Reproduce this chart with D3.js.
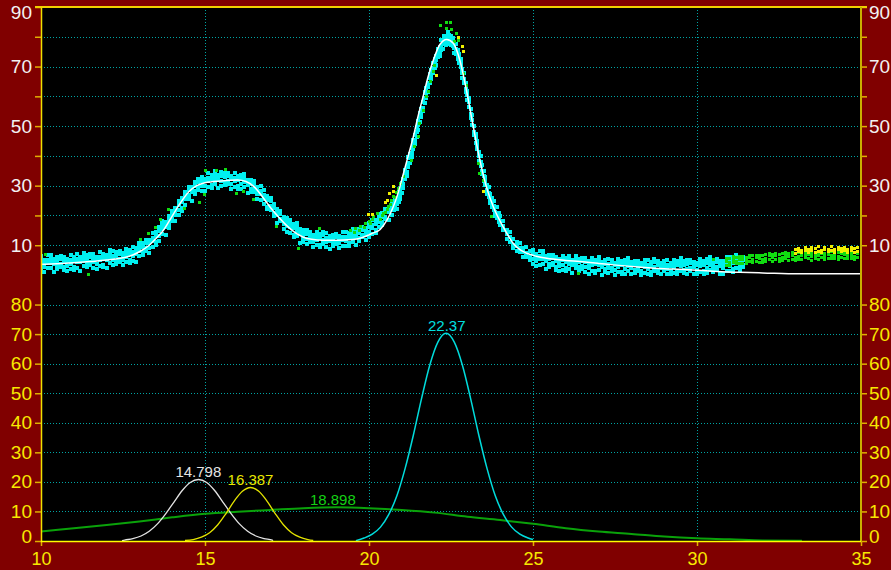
<!DOCTYPE html>
<html><head><meta charset="utf-8">
<script src="https://cdn.jsdelivr.net/npm/d3@7"></script>
<style>html,body{margin:0;padding:0;background:#800000;}svg{display:block;}</style>
</head><body><svg id="chart" width="891" height="570"></svg>
<script>
// ---------- DATA ----------
const xTicks = [10, 15, 20, 25, 30, 35];
const xGrid = [15, 20, 25, 30];
const topTicks = [10, 20, 30, 40, 50, 60, 70, 80, 90];
const topLabels = [10, 30, 50, 70, 90];
const botTicks = [0, 10, 20, 30, 40, 50, 60, 70, 80];

// measured points, rows of [x, y, y, ...]
const cyanRows = [
[10.0,1.7,3.4,4.9,6.4],[10.1,1.1,2.8,4.3,5.2],[10.2,2.2,4.1,5.2,6.7],[10.3,2.5,4.1,5.5,6.8],[10.4,1.0,3.8,4.8,5.5],
[10.5,2.1,3.2,4.8,6.1],[10.6,2.8,3.7,5.3,6.3],[10.7,1.7,2.6,4.7,6.1],[10.8,1.4,3.1,4.6,5.5],[10.9,2.0,3.7,5.2,6.7],
[11.0,1.8,2.7,4.8,6.2],[11.1,2.5,4.4,5.5,7.0],[11.2,1.5,4.3,5.3,6.0],[11.3,3.1,4.7,6.1,7.4],[11.4,2.6,3.7,5.3,6.6],
[11.5,3.4,4.3,5.9,6.9],[11.6,2.5,4.2,5.7,7.2],[11.7,2.1,3.8,5.3,6.2],[11.8,3.1,5.0,6.1,7.6],[11.9,2.6,3.5,5.6,7.0],
[12.0,2.2,5.0,6.0,6.7],[12.1,4.0,5.6,7.0,8.3],[12.2,3.2,4.9,6.4,7.9],[12.3,3.7,4.8,6.4,7.7],[12.4,4.5,5.4,7.0,8.0],
[12.5,3.2,4.9,6.4,7.3],[12.6,4.3,6.2,7.3,8.8],[12.7,4.0,4.9,7.0,8.4],[12.8,4.6,6.3,7.8,9.3],[12.9,4.4,7.2,8.2,8.9],
[13.0,6.5,8.1,9.5,10.8],[13.1,6.6,7.7,9.3,10.6],[13.2,8.2,9.1,10.7,11.7],[13.3,7.5,9.2,10.7,11.6],[13.4,9.5,11.4,12.5,14.0],
[13.5,10.1,11.0,13.1,14.5],[13.6,11.5,13.2,14.7,16.2],[13.7,13.8,15.4,16.8,18.1],[13.8,13.4,16.2,17.2,17.9],[13.9,15.9,17.0,18.6,19.9],
[14.0,18.1,19.0,20.6,21.6],[14.1,18.3,20.0,21.5,22.4],[14.2,20.2,21.9,23.4,24.9],[14.3,21.5,22.4,24.5,25.9],[14.4,23.5,25.4,26.5,28.0],
[14.5,25.4,27.0,28.4,29.7],[14.6,25.0,27.8,28.8,29.5],[14.7,27.1,28.2,29.8,31.1],[14.8,28.6,29.5,31.1,32.1],[14.9,28.3,30.0,31.5,33.0],
[15.0,28.3,30.0,31.5,32.4],[15.1,29.6,31.5,32.6,34.1],[15.2,29.3,30.2,32.3,33.7],[15.3,30.6,32.2,33.6,34.9],[15.4,29.1,31.9,32.9,33.6],
[15.5,29.9,31.6,33.1,34.6],[15.6,30.1,31.2,32.8,34.1],[15.7,30.7,31.6,33.2,34.2],[15.8,29.0,30.7,32.2,33.1],[15.9,29.7,31.6,32.7,34.2],
[16.0,28.9,29.8,31.9,33.3],[16.1,28.9,30.6,32.1,33.6],[16.2,29.5,31.1,32.5,33.8],[16.3,27.5,30.3,31.3,32.0],[16.4,27.9,29.0,30.6,31.9],
[16.5,27.9,28.8,30.4,31.4],[16.6,25.5,27.2,28.7,29.6],[16.7,25.3,27.2,28.3,29.8],[16.8,23.7,25.4,26.9,28.4],[16.9,22.1,23.0,25.1,26.5],
[17.0,21.7,23.3,24.7,26.0],[17.1,19.8,20.9,22.5,23.8],[17.2,17.5,20.3,21.3,22.0],[17.3,18.0,18.9,20.5,21.5],[17.4,15.3,17.0,18.5,19.4],
[17.5,14.6,16.3,17.8,19.3],[17.6,14.1,16.0,17.1,18.6],[17.7,12.7,13.6,15.7,17.1],[17.8,13.1,14.7,16.1,17.4],[17.9,10.9,13.7,14.7,15.4],
[18.0,11.2,12.3,13.9,15.2],[18.1,10.5,12.2,13.7,15.2],[18.2,11.1,12.0,13.6,14.6],[18.3,9.3,11.0,12.5,13.4],[18.4,10.0,11.9,13.0,14.5],
[18.5,9.3,10.2,12.3,13.7],[18.6,10.3,11.9,13.3,14.6],[18.7,9.3,11.0,12.5,14.0],[18.8,8.6,11.4,12.4,13.1],[18.9,9.6,10.7,12.3,13.6],
[19.0,10.3,11.2,12.8,13.8],[19.1,8.9,10.6,12.1,13.0],[19.2,9.9,11.8,12.9,14.4],[19.3,9.7,11.4,12.9,14.4],[19.4,9.7,10.6,12.7,14.1],
[19.5,11.2,12.8,14.2,15.5],[19.6,10.0,12.8,13.8,14.5],[19.7,11.4,12.5,14.1,15.4],[19.8,12.6,13.5,15.1,16.1],[19.9,11.7,13.4,14.9,15.8],
[20.0,12.8,14.5,16.0,17.5],[20.1,13.9,15.8,16.9,18.4],[20.2,14.2,15.1,17.2,18.6],[20.3,16.2,17.8,19.2,20.5],[20.4,16.7,17.8,19.4,20.7],
[20.5,18.7,19.6,21.2,22.2],[20.6,18.5,21.3,22.3,23.0],[20.7,20.3,22.0,23.5,25.0],
[20.75,21.9,23.5,25.0],[20.8,22.6,24.1,25.5],[20.85,22.3,23.9,25.3],[20.9,24.6,26.1,28.0],[20.95,25.5,26.6,28.5],
[21.0,27.7,29.3,30.8],[21.05,29.1,30.7,32.1],[21.1,32.4,33.9,35.3],[21.15,33.4,34.5,36.4],[21.2,36.2,37.7,39.6],
[21.25,37.7,39.3,40.8],[21.3,39.5,41.1,42.5],[21.35,42.4,43.9,45.3],[21.4,43.9,45.0,46.9],[21.45,46.4,47.9,49.8],
[21.5,48.7,50.3,51.8],[21.55,51.4,52.9,54.3],[21.6,52.9,54.5,55.9],[21.65,55.1,56.2,58.1],[21.7,57.9,59.4,61.3],
[21.75,59.6,61.2,62.7],[21.8,61.6,63.2,64.6],[21.85,64.5,66.0,67.4],[21.9,65.8,66.9,68.8],[21.95,67.9,69.4,71.3],
[22.0,69.5,71.1,72.6],[22.05,70.5,72.1,73.5],[22.1,73.1,74.6,76.0],[22.15,73.4,74.5,76.4],[22.2,75.4,76.9,78.8],
[22.25,75.9,77.5,79.0],[22.3,77.5,79.0,80.4],[22.35,77.2,78.8,80.2],[22.4,78.3,79.8,81.7],[22.45,77.6,78.7,80.6],
[22.5,77.2,78.8,80.3],[22.55,76.8,78.3,79.7],[22.6,74.6,76.2,77.6],[22.65,74.3,75.8,77.7],[22.7,72.4,73.5,75.4],
[22.75,71.2,72.8,74.3],[22.8,69.7,71.2,72.6],[22.85,66.2,67.8,69.2],[22.9,64.4,65.9,67.8],[22.95,61.4,62.5,64.4],
[23.0,58.8,60.4,61.9],[23.05,56.5,58.0,59.4],[23.1,52.6,54.2,55.6],[23.15,50.4,51.9,53.8],[23.2,47.0,48.1,50.0],
[23.25,44.4,46.0,47.5],[23.3,42.2,43.7,45.1],[23.35,38.4,40.0,41.4],[23.4,36.5,38.0,39.9],[23.45,33.8,34.9,36.8],
[23.5,31.7,33.3,34.8],[23.55,30.1,31.6,33.0],[23.6,27.1,28.7,30.1],[23.65,26.2,27.7,29.6],[23.7,24.1,25.2,27.1],
[23.75,22.7,24.3,25.8],[23.8,21.8,23.3,24.7],[23.85,19.7,21.3,22.7],[23.9,19.3,20.8,22.7],[23.95,17.7,18.8,20.7],
[24.0,16.7,18.3,19.8],[24.1,15.1,16.6,18.0],[24.2,12.2,13.8,15.2],[24.3,11.1,12.6,14.5],[24.4,9.0,10.1,12.0],
[24.5,8.1,9.7,11.2],[24.6,7.7,9.2,10.6],[24.7,6.0,7.6,9.0],[24.8,6.0,7.5,9.4],[24.9,5.0,6.1,8.0],
[25.0,3.8,5.5,7.0,8.5],[25.1,2.9,4.6,6.1,7.0],[25.2,3.5,5.4,6.5,8.0],[25.3,3.8,5.4,6.8,8.1],[25.4,1.9,4.7,5.7,6.4],
[25.5,2.7,3.8,5.4,6.7],[25.6,3.2,4.1,5.7,6.7],[25.7,1.8,2.7,4.8,6.2],[25.8,1.3,3.0,4.5,5.4],[25.9,1.7,3.4,4.9,6.4],
[26.0,1.4,2.3,4.4,5.8],[26.1,1.9,3.8,4.9,6.4],[26.2,0.7,3.5,4.5,5.2],[26.3,2.2,3.8,5.2,6.5],[26.4,1.5,2.6,4.2,5.5],
[26.5,2.1,3.0,4.6,5.6],[26.6,1.0,2.7,4.2,5.7],[26.7,0.5,2.2,3.7,4.6],[26.8,1.3,3.2,4.3,5.8],[26.9,0.6,1.5,3.6,5.0],
[27.0,1.6,3.2,4.6,5.9],[27.1,0.1,2.8,3.8,4.5],[27.2,0.9,2.0,3.6,4.9],[27.3,0.6,2.3,3.8,5.3],[27.4,1.5,2.4,4.0,5.0],
[27.5,0.1,1.7,3.2,4.1],[27.6,0.9,2.8,3.9,5.4],[27.7,0.2,1.1,3.2,4.6],[27.8,0.4,2.1,3.6,5.1],[27.9,1.3,2.9,4.3,5.6],
[28.0,0.2,2.5,3.5,4.2],[28.1,0.6,1.7,3.3,4.6],[28.2,1.3,2.2,3.8,4.8],[28.3,0.1,1.5,3.0,3.9],[28.4,0.7,2.6,3.7,5.2],
[28.5,0.3,2.0,3.5,5.0],[28.6,0.1,1.0,3.1,4.5],[28.7,1.2,2.8,4.2,5.5],[28.8,0.6,1.7,3.3,4.6],[28.9,0.2,2.4,3.4,4.1],
[29.0,1.3,2.2,3.8,4.8],[29.1,0.3,2.0,3.5,5.0],[29.2,0.2,1.5,3.0,3.9],[29.3,0.7,2.6,3.7,5.2],[29.4,0.2,1.1,3.2,4.6],
[29.5,1.3,2.9,4.3,5.6],[29.6,0.7,1.8,3.4,4.7],[29.7,0.4,2.1,3.6,5.1],[29.8,1.5,2.4,4.0,5.0],[29.9,0.2,2.6,3.6,4.3],
[30.0,0.2,1.7,3.2,4.1],[30.1,1.0,2.9,4.0,5.5],[30.2,0.4,1.3,3.4,4.8],[30.3,0.7,2.4,3.9,5.4],[30.4,1.6,3.2,4.6,5.9],
[30.5,1.1,2.2,3.8,5.1],[30.6,1.8,2.7,4.3,5.3],[30.7,0.4,3.0,4.0,4.7],[30.8,0.5,2.2,3.7,4.6],[30.9,1.5,3.4,4.5,6.0],
[31.0,1.2,2.9,4.4,5.9],[31.1,1.1,2.0,4.1,5.5],[31.2,2.3,3.9,5.3,6.6],[31.3,1.8,2.9,4.5,5.8],[31.4,2.6,3.5,5.1,6.1]
];
const greenRows = [
[30.9,3.3,4.6,5.6],[31.0,3.2,4.3,5.4],[31.1,4.1,5.3,6.1],[31.2,3.7,4.7,6.0],[31.3,4.0,5.3,6.2],
[31.4,3.8,5.1,6.1],[31.5,3.7,4.8,5.9],[31.6,4.6,5.8,6.6],[31.7,4.2,5.2,6.5],[31.8,4.5,5.8,6.7],
[31.9,4.3,5.6,6.6],[32.0,4.2,5.3,6.4],[32.1,4.6,5.6,6.9],[32.2,5.2,6.4,7.2],[32.3,4.7,6.0,7.0],
[32.4,5.1,6.4,7.3],[32.5,4.6,5.7,6.8],[32.6,5.0,6.0,7.3],[32.7,5.5,6.7,7.5],[32.8,5.0,6.3,7.3],
[32.9,5.3,6.6,7.5],[33.0,4.9,6.0,7.1],[33.1,5.2,6.2,7.5],[33.2,5.1,6.4,7.4],[33.3,5.8,7.0,7.8],
[33.4,5.5,6.8,7.7],[33.5,5.0,6.1,7.2],[33.6,5.4,6.4,7.7],[33.7,5.3,6.6,7.6],[33.8,5.9,7.1,7.9],
[33.9,5.1,6.2,7.3],[34.0,5.6,6.9,7.8],[34.1,5.5,6.5,7.8],[34.2,5.4,6.7,7.7],[34.3,5.2,6.3,7.4],
[34.4,6.0,7.2,8.0],[34.5,5.7,7.0,7.9],[34.6,5.5,6.5,7.8],[34.7,5.4,6.7,7.7],[34.8,5.2,6.3,7.4],
[34.9,6.0,7.2,8.0],[35.0,5.7,7.0,7.9]
];
const greenSingles = [
[10.15,6.9],[11.44,0.3],[13.02,12.0],[13.27,14.0],[13.48,16.0],[13.65,18.5],[13.88,22.0],[14.36,22.4],
[14.83,24.3],[14.97,27.1],[15.02,35.0],[15.34,35.2],[15.64,35.5],[15.97,27.4],[16.17,28.0],[16.48,25.2],
[17.17,16.2],[17.85,9.0],[18.5,15.7],[19.45,15.0],[19.55,14.4],[19.6,15.6],[19.7,15.0],[19.75,16.3],
[19.85,16.0],[19.9,17.2],[20.0,18.0],[20.05,17.4],[20.1,18.8],[20.15,19.6],[20.25,20.5],[20.35,18.6],
[20.4,19.9],[20.5,21.0],[20.55,21.9],[20.65,23.8],[20.7,24.9],[20.8,26.0],[20.85,27.6],[20.9,28.9],
[20.43,20.7],[20.59,22.9],[20.74,26.3],[20.95,30.8],[21.05,33.0],[21.3,38.6],[21.4,43.1],[21.5,46.4],
[21.55,50.9],[21.66,55.4],[21.76,59.8],[21.81,61.5],[21.86,64.9],[21.96,68.2],[22.01,70.5],
[22.19,83.7],[22.37,84.7],[22.49,84.7],[22.37,82.8],[22.52,82.5],[22.67,81.1],[22.72,78.6],[22.62,78.3],
[22.87,67.7],[22.96,63.8],[23.33,37.5],[23.38,34.1],[23.48,31.9],[23.74,19.6],[26.38,0.6],[30.5,5.3]
];
const yellowRows = [
[33.0,7.3,8.4],[33.1,7.9,9.0],[33.2,7.6,8.2],[33.3,8.1,9.4],[33.4,7.4,8.6],[33.5,8.3,9.1],[33.6,7.7,8.8],
[33.7,8.0,9.5],[33.8,7.5,8.3],[33.9,8.4,9.2],[34.0,7.8,8.7],[34.1,8.1,9.6],[34.2,7.6,8.4],[34.3,8.5,9.3],
[34.4,7.9,8.9],[34.5,8.2,9.4],[34.6,7.5,8.5],[34.7,8.3,9.2],[34.8,7.7,8.8],[34.9,8.0,9.4],[35.0,7.6,8.6]
];
const yellowSingles = [
[19.98,20.4],[20.12,20.4],[20.49,24.3],[20.56,24.9],[20.64,27.4],[20.76,29.6],[20.74,28.0],
[22.06,66.9],[22.72,79.6],[22.85,76.6],[22.87,74.9],[23.48,28.0]
];

// fitted curve (top panel)
const fitX = [10.0,10.5,11.0,11.5,12.0,12.5,12.8,13.0,13.3,13.5,13.75,14.0,14.25,14.5,14.75,15.0,15.5,16.0,16.25,16.5,
 16.75,17.0,17.25,17.5,17.75,18.0,18.25,18.6,19.0,19.5,19.8,20.1,20.34,20.55,20.74,20.9,21.05,21.2,21.35,21.5,
 21.66,21.8,21.96,22.16,22.37,22.57,22.77,22.97,23.18,23.38,23.58,23.79,24.09,24.4,24.6,24.81,25.1,25.42,26.0,26.43,
 27.0,27.45,28.3,29.0,29.5,30.0,30.5,31.3,32.0,33.1,35.0];
const fitY = [3.6,3.8,4.1,4.5,5.0,5.8,6.7,7.8,10.0,12.2,15.3,19.8,24.2,27.9,30.0,31.0,31.6,31.9,31.4,29.6,
 26.3,22.6,19.4,16.5,14.2,12.7,12.0,11.7,11.7,11.9,12.6,14.0,15.3,18.5,22.9,28.0,34.1,40.2,46.4,53.5,
 60.4,66.5,72.1,77.4,79.1,77.8,72.1,62.1,49.8,38.6,29.6,22.9,16.2,10.6,8.5,7.3,6.3,5.6,4.9,4.5,
 3.9,3.4,2.6,2.1,1.9,1.6,1.3,0.9,0.7,0.4,0.4];

// component peaks (bottom panel)
const peak1X = [12.47,12.55,12.8,13.05,13.3,13.55,13.8,14.05,14.3,14.55,14.8,15.05,15.3,15.55,15.8,16.05,16.3,16.55,16.8,17.05,17.07];
const peak1Y = [0.1,0.3,0.8,1.7,3.3,5.8,9.2,13.1,17.0,19.8,20.8,19.8,17.0,13.1,9.2,5.8,3.3,1.7,0.8,0.3,0.1];
const peak2X = [14.39,14.64,14.89,15.14,15.39,15.64,15.89,16.14,16.39,16.64,16.89,17.14,17.39,17.64,17.89,18.14,18.3];
const peak2Y = [0.2,0.5,1.3,2.8,5.5,9.3,13.5,16.8,18.1,16.8,13.5,9.3,5.5,2.8,1.3,0.5,0.2];
const peak3X = [10,11,12,13,14,15,16,17,18,19,20,21,22,23,24,25,26,27,28,29,30,31,32,33.2];
const peak3Y = [3.2,4.3,5.4,6.6,8.0,9.2,9.9,10.5,11.1,11.4,11.1,10.5,9.6,8.2,7.1,5.8,4.3,3.2,2.4,1.5,0.9,0.6,0.2,0.1];
const peak4X = [19.6,19.85,20.1,20.35,20.6,20.85,21.1,21.35,21.6,21.85,22.1,22.35,22.6,22.85,23.1,23.35,23.6,23.85,24.1,24.35,24.6,24.85,25.0];
const peak4Y = [0.1,1.0,2.3,4.7,8.9,15.3,24.5,35.7,48.1,59.4,67.3,70.3,67.3,59.4,48.1,35.7,24.5,15.3,8.9,4.7,2.3,1.0,0.5];

const peakNames = ["14.798", "16.387", "18.898", "22.37"];
const peakCenters = [14.798, 16.387, 18.898, 22.37];
const peakHeights = [20.8, 18.1, 11.4, 70.3];

// ---------- DRAWING ----------
const W = 891, H = 570;
const L = 41, R = 861, T = 7, B = 541, MID = 275;
const svg = d3.select("#chart");
const font = "'Liberation Sans', Arial, sans-serif";

const x = d3.scaleLinear().domain([10, 35]).range([L, R]);
const yTop = d3.scaleLinear().domain([0, 90]).range([MID, T]);
const yBot = d3.scaleLinear().domain([0, 90]).range([B, MID]);

svg.append("rect").attr("width", W).attr("height", H).attr("fill", "#800000");
svg.append("rect").attr("x", L).attr("y", T).attr("width", R - L).attr("height", B - T).attr("fill", "#000");

svg.append("clipPath").attr("id", "clip").append("rect")
  .attr("x", L).attr("y", T).attr("width", R - L).attr("height", B - T);

// grid
const grid = svg.append("g").attr("stroke", "#00a4a4").attr("stroke-width", 1).attr("stroke-dasharray", "1,2");
grid.selectAll(".ht").data(topTicks.filter(d => d < 90)).join("line").attr("class", "ht")
  .attr("x1", L).attr("x2", R).attr("y1", d => Math.round(yTop(d)) + 0.5).attr("y2", d => Math.round(yTop(d)) + 0.5);
grid.selectAll(".hb").data(botTicks.filter(d => d > 0)).join("line").attr("class", "hb")
  .attr("x1", L).attr("x2", R).attr("y1", d => Math.round(yBot(d)) + 0.5).attr("y2", d => Math.round(yBot(d)) + 0.5);
grid.selectAll(".v").data(xGrid).join("line").attr("class", "v")
  .attr("x1", d => Math.round(x(d)) + 0.5).attr("x2", d => Math.round(x(d)) + 0.5).attr("y1", T).attr("y2", B);

const plot = svg.append("g").attr("clip-path", "url(#clip)");

// scatter
function rowsToPts(rows) {
  const pts = [];
  rows.forEach(r => { for (let i = 1; i < r.length; i++) pts.push([r[0], r[i]]); });
  return pts;
}
function drawPts(pts, color, s) {
  plot.append("g").attr("fill", color).attr("shape-rendering", "crispEdges")
    .selectAll("rect").data(pts).join("rect")
    .attr("x", d => Math.round(x(d[0]) - s / 2)).attr("y", d => Math.round(yTop(d[1]) - s / 2))
    .attr("width", s).attr("height", s);
}
drawPts(rowsToPts(cyanRows), "#00f0f0", 4);
drawPts(rowsToPts(greenRows).concat(greenSingles), "#10dc10", 3);
drawPts(rowsToPts(yellowRows).concat(yellowSingles), "#f0f000", 3);

// fit
const lineTop = d3.line().x(d => x(d[0])).y(d => yTop(d[1])).curve(d3.curveMonotoneX);
plot.append("path").datum(fitX.map((v, i) => [v, fitY[i]]))
  .attr("d", lineTop).attr("fill", "none").attr("stroke", "#ffffff").attr("stroke-width", 1.5);

// components
const lineBot = d3.line().x(d => x(d[0])).y(d => yBot(d[1])).curve(d3.curveMonotoneX);
const comps = [
  {xs: peak3X, ys: peak3Y, c: "#0aa20a", w: 2},
  {xs: peak1X, ys: peak1Y, c: "#e4e4e4", w: 1.3},
  {xs: peak2X, ys: peak2Y, c: "#e4e400", w: 1.3},
  {xs: peak4X, ys: peak4Y, c: "#00dcdc", w: 1.5}
];
comps.forEach(cmp => {
  plot.append("path").datum(cmp.xs.map((v, i) => [v, cmp.ys[i]]))
    .attr("d", lineBot).attr("fill", "none").attr("stroke", cmp.c).attr("stroke-width", cmp.w);
});
const labelColors = ["#e4e4e4", "#e8e800", "#14d014", "#00e0e0"];
peakNames.forEach((n, i) => {
  svg.append("text").attr("x", x(peakCenters[i])).attr("y", yBot(peakHeights[i]) - 2.5)
    .attr("text-anchor", "middle").attr("font-family", font).attr("font-size", 15)
    .attr("fill", labelColors[i]).text(n);
});

// axes
function styleAxis(g, color, size) {
  g.select(".domain").remove();
  g.selectAll(".tick line").attr("stroke", "#e0b000").attr("stroke-width", 1.5);
  g.selectAll(".tick text").attr("fill", color).attr("font-size", size).attr("font-family", font);
}
const fmtTop = d => topLabels.includes(d) ? d : "";
const gTL = svg.append("g").attr("transform", `translate(${L},0)`)
  .call(d3.axisLeft(yTop).tickValues(topTicks).tickSize(6).tickPadding(3).tickFormat(fmtTop));
const gTR = svg.append("g").attr("transform", `translate(${R},0)`)
  .call(d3.axisRight(yTop).tickValues(topTicks).tickSize(6).tickPadding(2).tickFormat(fmtTop));
const gBL = svg.append("g").attr("transform", `translate(${L},0)`)
  .call(d3.axisLeft(yBot).tickValues(botTicks).tickSize(6).tickPadding(3));
const gBR = svg.append("g").attr("transform", `translate(${R},0)`)
  .call(d3.axisRight(yBot).tickValues(botTicks).tickSize(6).tickPadding(2));
const gX = svg.append("g").attr("transform", `translate(0,${B})`)
  .call(d3.axisBottom(x).tickValues(xTicks).tickSize(5).tickPadding(6));
[gTL, gTR].forEach(g => styleAxis(g, "#f2f2f2", 19));
[gBL, gBR].forEach(g => styleAxis(g, "#f8e800", 19));
styleAxis(gX, "#f8e800", 18);
[gTL, gTR].forEach(g => g.selectAll(".tick").filter(d => d === 90).select("text").attr("dy", "0.58em"));
[gBL, gBR].forEach(g => g.selectAll(".tick").filter(d => d === 0).select("text").attr("dy", "0.1em"));

// frame lines
svg.append("line").attr("x1", 35).attr("x2", 867).attr("y1", T).attr("y2", T).attr("stroke", "#f0d000").attr("stroke-width", 2);
svg.append("line").attr("x1", L + 0.5).attr("x2", L + 0.5).attr("y1", T).attr("y2", B + 1).attr("stroke", "#f0e000").attr("stroke-width", 1.5);
svg.append("line").attr("x1", R).attr("x2", R).attr("y1", T).attr("y2", B + 1).attr("stroke", "#c8b000").attr("stroke-width", 2);
svg.append("line").attr("x1", L).attr("x2", R).attr("y1", B + 0.5).attr("y2", B + 0.5).attr("stroke", "#ffff00").attr("stroke-width", 1.5);
</script></body></html>
